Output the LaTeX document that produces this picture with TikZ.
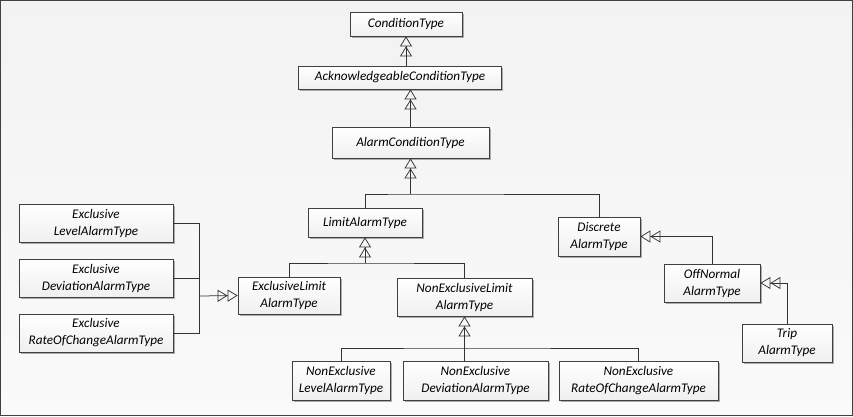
\documentclass[tikz,border=0pt]{standalone}
\usepackage{fontspec}
\setmainfont{Carlito}
\usetikzlibrary{arrows.meta,shadows,calc}
\begin{document}
\begin{tikzpicture}[x=1pt,y=-1pt,
  box/.style={draw=black!75, line width=0.75pt, top color=white, bottom color=gray!12,
    drop shadow={shadow xshift=1.6pt, shadow yshift=-1.6pt, fill=black!45, opacity=0.7},
    inner sep=0pt, align=center, font=\fontsize{13.2}{17}\selectfont\itshape, text=black},
  ln/.style={draw=black!80, line width=0.75pt},
  gen/.style={ln, -{Triangle[open,length=10pt,width=12pt,sep=0pt]Triangle[open,length=10pt,width=12pt,sep=0pt]}}]
\useasboundingbox (0,0) rectangle (853,416);
\draw[draw=black!75, line width=1pt, top color=gray!10, bottom color=gray!4] (0.5,0.5) rectangle (852.5,415.5);
% boxes
\node[box, minimum width=112, minimum height=24] (ct) at (406,24) {ConditionType};
\node[box, minimum width=203, minimum height=23] (act) at (400,77.5) {AcknowledgeableConditionType};
\node[box, minimum width=157, minimum height=31] (acl) at (410.5,142.5) {AlarmConditionType};
\node[box, minimum width=114, minimum height=29] (lat) at (365,222.5) {LimitAlarmType};
\node[box, minimum width=82, minimum height=39] (dat) at (599,236.5) {Discrete\\AlarmType};
\node[box, minimum width=102, minimum height=37] (elat) at (289,295.5) {ExclusiveLimit\\AlarmType};
\node[box, minimum width=135, minimum height=38] (nelat) at (464.5,297) {NonExclusiveLimit\\AlarmType};
\node[box, minimum width=154, minimum height=38] (el1) at (96,223) {Exclusive\\LevelAlarmType};
\node[box, minimum width=154, minimum height=38] (el2) at (96,278) {Exclusive\\DeviationAlarmType};
\node[box, minimum width=154, minimum height=38] (el3) at (96,333) {Exclusive\\RateOfChangeAlarmType};
\node[box, minimum width=96, minimum height=38] (onat) at (712,283) {OffNormal\\AlarmType};
\node[box, minimum width=90, minimum height=38] (trip) at (787,343) {Trip\\AlarmType};
\node[box, minimum width=98, minimum height=39] (ne1) at (341,380.5) {NonExclusive\\LevelAlarmType};
\node[box, minimum width=145, minimum height=39] (ne2) at (475.5,380.5) {NonExclusive\\DeviationAlarmType};
\node[box, minimum width=159, minimum height=39] (ne3) at (638.5,380.5) {NonExclusive\\RateOfChangeAlarmType};
% junctions
\coordinate (j1) at (410.5,194);
\coordinate (j2) at (365,263);
\coordinate (j3) at (464.5,348);
\coordinate (j4) at (199,296);
% connectors
\draw[gen] (act.north -| ct.south) -- (ct.south);
\draw[gen] (acl.north) -- (acl.north |- act.south);
\draw[gen] (j1) -- (acl.south);
\draw[ln] (lat.north) |- (j1) -| (dat.north);
\draw[gen] (j2) -- (lat.south);
\draw[ln] (elat.north) |- (j2) -| (nelat.north);
\draw[gen] (ne2.north -| nelat.south) -- (nelat.south);
\draw[ln] (ne1.north) |- (j3) -| (ne3.north);
\draw[ln] (el1.east) -| (j4);
\draw[ln] (el3.east) -| (j4);
\draw[ln] (el2.east) -- (el2.east -| j4);
\draw[gen] (j4) -- (elat.west);
\draw[gen] (onat.north) |- (dat.east);
\draw[gen] (trip.north) |- (onat.east);
\end{tikzpicture}
\end{document}
